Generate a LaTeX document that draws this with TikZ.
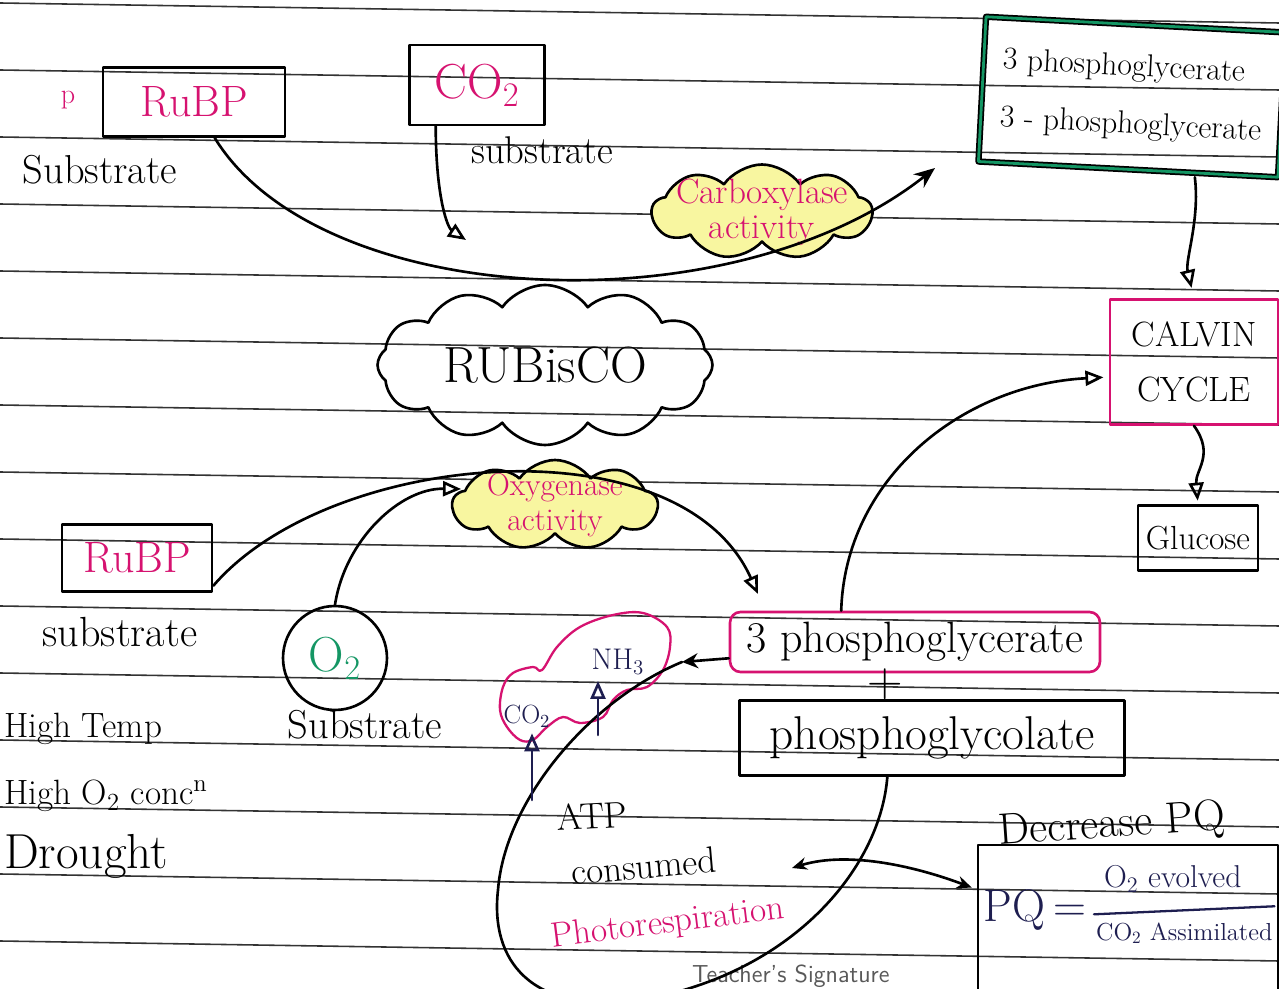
\documentclass[tikz,border=0pt]{standalone}
\usepackage{fontspec}
\usetikzlibrary{arrows.meta, positioning, shapes.symbols}

\definecolor{penmag}{RGB}{214,18,112}
\definecolor{pengreen}{RGB}{20,150,100}
\definecolor{pennavy}{RGB}{30,30,80}
\definecolor{marker}{RGB}{248,246,160}
\newcommand{\fsz}[2]{\fontsize{#1}{#2}\selectfont}

\tikzset{
  ink/.style={line width=1.5pt, black},
  rule/.style={line width=0.9pt, black!80},
  box/.style={draw, line width=1.5pt, inner sep=3pt},
  puff/.style={cloud, cloud puffs=12, cloud puff arc=110, cloud ignores aspect, draw, line width=1.5pt, inner sep=0pt},
}

\begin{document}
\begin{tikzpicture}[x=0.02cm, y=-0.02cm, >={Triangle[open,length=0.36cm,width=0.3cm]}, line cap=round, line join=round]

    \useasboundingbox (0,0) rectangle (1279,989);
    \fill[white] (0,0) rectangle (1279,989);
    \clip (0,0) rectangle (1279,989);

    %ruled lines of the page
    \foreach \k in {0,...,14}
        \draw[rule] (0,{3+67*\k}) -- (1279,{23+67*\k});

    %define the carboxylase side
    \node[box, text=penmag, font=\fsz{25}{30}, minimum width=3.64cm, minimum height=1.38cm] (rubptop) at (194,102) {RuBP};
    \node[text=penmag, font=\fsz{16}{18}] (pmark) at (68,100) {p};
    \node[font=\fsz{23}{26}] (subA) at (100,170) {Substrate};
    \node[box, text=penmag, font=\fsz{28}{30}, minimum width=2.7cm, minimum height=1.6cm] (co2) at (477,85) {CO\textsubscript{2}};
    \node[font=\fsz{22}{24}] (subB) at (542,150) {substrate};
    \node[puff, cloud puffs=9, fill=marker, minimum width=4.4cm, minimum height=1.9cm] (carbox) at (762,212) {};
    \node[text=penmag, font=\fsz{20}{20}, align=center] (carbtxt) at (carbox.center) {Carboxylase\\activity};
    \node[draw=black, double=pengreen, double distance=1.6pt, line width=1pt, align=left, font=\fsz{18}{33}, minimum width=6cm, minimum height=2.9cm, rotate=-3] (pgatop) at (1132,97) {3 phosphoglycerate\\3 - phosphoglycerate};
    \node[box, draw=penmag, align=center, font=\fsz{20}{31}, minimum width=3.36cm, minimum height=2.5cm] (calvin) at (1194,362) {CALVIN\\CYCLE};
    \node[box, font=\fsz{19}{22}, minimum width=2.4cm, minimum height=1.3cm] (glucose) at (1198,538) {Glucose};

    %the enzyme
    \node[puff, font=\fsz{29}{32}, minimum width=6.7cm, minimum height=3.2cm] (rubisco) at (545,365) {RUBisCO};

    %define the oxygenase side
    \node[puff, cloud puffs=9, fill=marker, minimum width=4.1cm, minimum height=1.8cm] (oxy) at (555,505) {};
    \node[text=penmag, font=\fsz{18}{20}, align=center] (oxytxt) at (oxy.center) {Oxygenase\\activity};
    \node[box, text=penmag, font=\fsz{25}{30}, minimum width=3cm, minimum height=1.34cm] (rubpbot) at (137,558) {RuBP};
    \node[font=\fsz{24}{26}] (subC) at (120,632) {substrate};
    \node[circle, draw, line width=1.5pt, minimum size=2.08cm, text=pengreen, font=\fsz{28}{30}] (otwo) at (335,658) {O\textsubscript{2}};
    \node[font=\fsz{23}{26}, below=-4pt of otwo, xshift=0.6cm] (subD) {Substrate};
    \node[box, draw=penmag, rounded corners=6pt, font=\fsz{25}{28}, minimum width=7.4cm, minimum height=1.2cm] (pgamid) at (915,642) {3 phosphoglycerate};
    \node[font=\fsz{28}{30}] (plus) at (885,684) {+};
    \node[box, font=\fsz{27}{30}, minimum width=7.7cm, minimum height=1.5cm] (pgc) at (932,738) {phosphoglycolate};

    %conditions on the left
    \node[anchor=base west, font=\fsz{20}{22}, inner sep=1pt] (hitemp) at (2,738) {High Temp};
    \node[anchor=base west, font=\fsz{20}{22}, inner sep=1pt] (hiotwo) at (2,805) {High O\textsubscript{2} conc\textsuperscript{n}};
    \node[anchor=base west, font=\fsz{28}{30}, inner sep=1pt] (drought) at (2,868) {Drought};

    %photorespiration
    \draw[penmag, line width=1.3pt] plot[smooth cycle, tension=0.6] coordinates {(500,710) (503,687) (513,673) (533,667) (542,670) (557,647) (580,627) (613,615) (643,613) (667,627) (670,647) (663,670) (647,687) (627,690) (613,700) (603,717) (580,723) (563,717) (547,727) (533,740) (520,740) (507,727)};
    \node[text=pennavy, font=\fsz{15}{16}] (co2out) at (527,716) {CO\textsubscript{2}};
    \node[text=pennavy, font=\fsz{17}{18}] (nh3) at (618,662) {NH\textsubscript{3}};
    \node[rotate=3, font=\fsz{21}{24}, inner sep=1pt] (atp) at (592,816) {ATP};
    \node[rotate=5, font=\fsz{21}{24}, inner sep=1pt] (consumed) at (644,866) {consumed};
    \node[rotate=7, text=penmag, font=\fsz{20}{22}, inner sep=1pt] (photo) at (668,924) {Photorespiration};
    \node[rotate=4, font=\fsz{25}{27}] (decpq) at (1112,826) {Decrease PQ};
    \node[box, minimum width=6cm, minimum height=3.4cm] (pq) at (1128,930) {};
    \node[anchor=west, text=pennavy, font=\fsz{26}{28}, inner sep=2pt] (pqlabel) at (980,910) {PQ\,=};
    \node[anchor=base west, text=pennavy, font=\fsz{18}{20}, inner sep=1pt] (pqnum) at (1102,888) {O\textsubscript{2} evolved};
    \node[anchor=base west, text=pennavy, font=\fsz{14}{16}, inner sep=1pt] (pqden) at (1094,940) {CO\textsubscript{2} Assimilated};
    \draw[pennavy, line width=1.3pt] (pqden.north west) ++(0,-6) -- ([yshift=8pt]pqden.north east);
    \node[anchor=base west, text=black!65, font=\sffamily\fsz{14}{16}, inner sep=1pt] (sign) at (690,982) {Teacher's Signature};

    %free ends of the connectors
    \coordinate (carbtip) at (935,168);
    \coordinate (co2tip) at (466,240);
    \coordinate (oxytip) at (758,594);
    \coordinate (loopend) at (682,662);
    \coordinate (swapL) at (792,868);
    \coordinate (co2foot) at (532,800);
    \coordinate (nhfoot) at (598,735);

    %define the links
    \draw[ink, -{Stealth[length=0.42cm,width=0.34cm]}] (rubptop.-60) .. controls (320,310) and (730,330) .. (carbtip);
    \draw[ink, ->] (co2.-135) .. controls (436,200) and (448,228) .. (co2tip);
    \draw[ink, ->, shorten <=4pt, shorten >=6pt] (pgatop.south -| calvin.north) .. controls (1200,220) and (1185,260) .. (calvin.north);
    \draw[ink, ->, shorten >=2pt] (calvin.south) .. controls (1215,455) and (1195,470) .. (glucose.north);
    \draw[ink, ->] (rubpbot.-20) .. controls (330,450) and (680,420) .. (oxytip);
    \draw[ink, ->, shorten >=2pt] (otwo.north) .. controls (345,540) and (400,488) .. (oxy.170);
    \draw[ink, ->, shorten >=3pt] (pgamid.157) .. controls (845,480) and (960,385) .. (calvin.190);
    \draw[ink] (pgc.-139) .. controls (880,870) and (790,975) .. (640,1000) .. controls (530,1015) and (490,960) .. (498,890) .. controls (505,800) and (590,700) .. (loopend);
    \draw[ink, -{Stealth[length=0.32cm,width=0.3cm]}] (pgamid.185) -- (loopend);
    \draw[ink, pennavy, ->] (co2foot) -- (co2out.south -| co2foot);
    \draw[ink, pennavy, ->] (nhfoot) -- (nh3.south -| nhfoot);
    \draw[ink, {Stealth[length=0.3cm,width=0.25cm]}-{Stealth[length=0.3cm,width=0.25cm]}, shorten >=3pt] (swapL) .. controls (850,850) and (920,868) .. (pq.165);

\end{tikzpicture}
\end{document}
